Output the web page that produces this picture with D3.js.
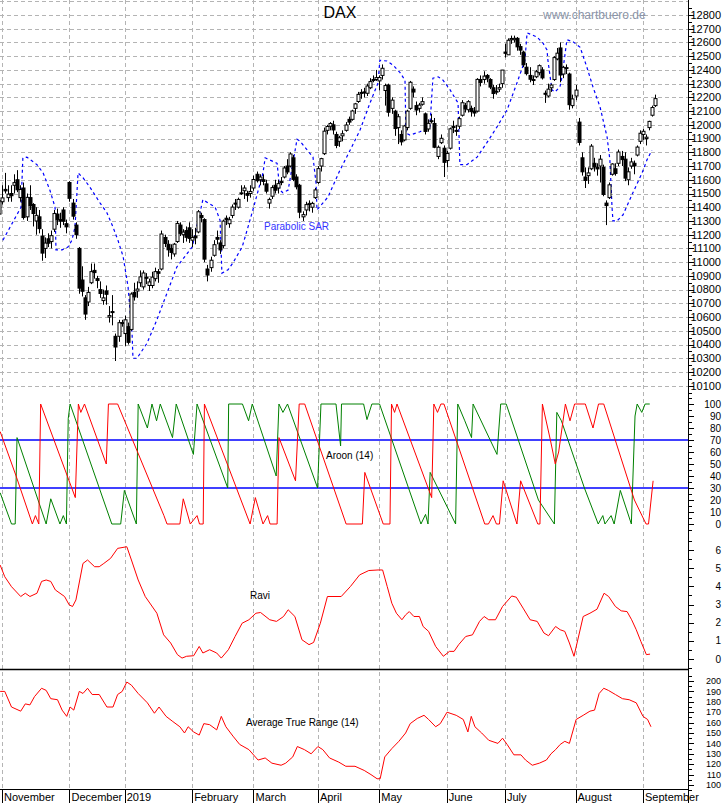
<!DOCTYPE html>
<html>
<head>
<meta charset="utf-8">
<script src="https://cdnjs.cloudflare.com/ajax/libs/d3/7.8.5/d3.min.js"></script>
<style>
  body { margin: 0; background: #fff; }
  text { font-family: "Liberation Sans", Arial, sans-serif; }
</style>
</head>
<body>
<svg id="chart" width="723" height="803"></svg>
<script>
// daily DAX candles, Oct 31 2018 .. Sep 6 2019 (trading-day index)
var open = [11350,11440,11530,11470,11500,11560,11600,11470,11540,11330,11470,11420,11300,11330,11190,11100,11170,11150,11240,11350,11310,11380,11280,
  11580,11430,11270,11100,10870,10740,10710,10850,10940,10880,10800,10720,10790,10600,10640,10460,10460,10559,
  10480,10530,10510,10780,10790,10850,10820,10890,10830,10830,10880,10930,10950,11180,11130,11100,11060,11150,11270,11200,11230,11250,
  11160,11190,11220,11340,11310,10950,10960,11050,11180,11140,11120,11320,11280,11340,11430,11400,11500,11520,11500,11500,
  11540,11640,11600,11600,11570,11430,11480,11560,11540,11580,11620,11700,11700,11760,11620,11560,11330,11380,11420,11400,11470,
  11580,11700,11790,11960,11990,12000,11930,11880,11920,11960,12040,12040,12120,12170,12230,12240,12230,12270,12330,12330,
  12320,12360,12250,12290,12120,12100,11980,11930,11890,11980,12120,12260,12140,12120,12150,12080,11970,12030,12010,11770,11870,11830,
  11740,11830,11990,11960,11990,12070,12140,12110,12120,12100,12100,12330,12330,12360,12330,12270,12240,12260,12300,
  12530,12510,12620,12620,12630,12570,12530,12420,12360,12330,12350,12380,12400,12230,12210,12270,12330,12480,12560,12370,12410,12370,12140,
  12210,12020,11760,11620,11630,11680,11720,11690,11700,11690,11430,11470,11640,11680,11720,11770,11750,11600,11700,11720,11780,11880,
  11930,11900,11980,12070,12140];
var high = [11480,11560,11650,11560,11560,11640,11670,11560,11580,11500,11560,11430,11400,11380,11240,11180,11210,11230,11380,11390,11360,11400,11310,
  11590,11460,11290,11110,10970,10760,10820,10990,10990,10900,10860,10800,10830,10680,10760,10480,10580,10580,
  10610,10560,10780,10850,10860,10940,10940,10920,10880,10930,10960,10950,11230,11200,11160,11130,11140,11300,11290,11240,11260,11290,
  11240,11250,11380,11360,11320,10980,11040,11160,11230,11160,11310,11340,11330,11420,11460,11470,11560,11560,11520,11560,
  11630,11660,11640,11640,11600,11470,11560,11600,11600,11620,11700,11750,11800,11780,11640,11570,11370,11440,11450,11440,11540,
  11700,11760,11980,12000,12020,12030,11950,11920,11960,12020,12060,12110,12160,12240,12260,12270,12300,12340,12360,12400,
  12360,12440,12300,12300,12200,12110,12080,11960,12000,12110,12320,12280,12170,12160,12200,12090,12040,12080,12050,11850,11930,11850,
  11810,11980,12030,12000,12060,12180,12160,12180,12140,12130,12340,12360,12390,12370,12340,12290,12290,12300,12400,
  12590,12630,12650,12650,12640,12590,12540,12450,12420,12360,12400,12440,12420,12250,12300,12300,12500,12560,12600,12430,12440,12380,12220,
  12290,12050,11800,11690,11690,11860,11760,11720,11780,11710,11450,11580,11720,11720,11820,11810,11800,11690,11760,11740,11850,11960,
  11970,11930,12030,12140,12220];
var low = [11330,11420,11500,11440,11440,11500,11510,11440,11310,11300,11380,11260,11200,11210,11010,11030,11110,11100,11220,11270,11250,11270,11210,
  11440,11310,11170,10770,10750,10580,10680,10840,10880,10810,10740,10690,10690,10560,10540,10280,10420,10530,
  10390,10400,10500,10720,10740,10820,10800,10840,10790,10810,10860,10850,10940,11110,11040,11020,11040,11140,11190,11140,11150,11140,
  11110,11130,11210,11290,11000,10860,10930,11040,11130,11060,11100,11270,11250,11320,11380,11390,11490,11460,11440,11470,
  11520,11580,11560,11560,11500,11390,11460,11500,11500,11560,11610,11640,11690,11590,11530,11320,11300,11340,11370,11360,11460,
  11570,11660,11780,11930,11960,11930,11830,11840,11880,11950,12000,12030,12080,12160,12190,12200,12210,12260,12310,12320,
  12250,12330,12140,12060,12080,11920,11860,11850,11880,11960,12110,12200,12070,12090,12140,11930,11950,12010,11830,11750,11860,11620,
  11690,11820,11940,11920,11970,12060,12090,12090,12060,12060,12090,12280,12300,12310,12260,12190,12220,12240,12270,
  12490,12510,12590,12600,12540,12510,12420,12360,12310,12290,12340,12360,12330,12160,12200,12240,12320,12470,12310,12340,12370,12110,12120,
  12180,11850,11630,11540,11570,11670,11660,11630,11580,11480,11270,11460,11630,11630,11700,11700,11590,11560,11680,11640,11770,11860,
  11890,11850,11960,12060,12130];
var close = [11447,11468,11519,11495,11484,11579,11527,11529,11325,11472,11412,11354,11341,11244,11066,11139,11138,11193,11354,11309,11299,11298,11257,
  11465,11335,11200,10811,10788,10622,10780,10931,10924,10866,10772,10740,10766,10611,10634,10382,10559,10560,
  10580,10416,10768,10747,10804,10893,10921,10887,10856,10891,10931,10919,11205,11136,11090,11071,11131,11282,11210,11219,11181,11173,
  11180,11177,11367,11324,11022,10906,11014,11127,11167,11089,11299,11309,11309,11401,11423,11457,11505,11540,11487,11515,
  11602,11593,11620,11588,11517,11457,11543,11524,11572,11587,11686,11657,11788,11603,11549,11364,11346,11419,11428,11428,11526,
  11681,11754,11954,11988,12010,11963,11850,11906,11935,11999,12020,12101,12153,12222,12236,12236,12283,12315,12328,12344,
  12345,12412,12286,12092,12180,11973,12059,11876,11992,12100,12310,12239,12108,12144,12169,11952,12011,12027,11837,11837,11902,11727,
  11792,11971,11980,11953,12045,12161,12116,12169,12096,12086,12331,12309,12355,12340,12275,12228,12245,12271,12399,
  12521,12616,12629,12630,12568,12544,12437,12373,12332,12323,12387,12431,12342,12227,12260,12290,12490,12522,12363,12419,12417,12147,12189,
  12253,11872,11658,11595,11650,11845,11694,11679,11750,11493,11412,11563,11715,11646,11802,11747,11612,11658,11730,11701,11838,11939,
  11953,11910,12025,12126,12191];

// Parabolic SAR, as drawn (day index, value)
var sarDay = [1.3,7.2,7.8,9.1,12.4,14.4,16.6,18.3,18.6,20.6,22.5,23.8,24.8,25.8,27.4,29.7,33,35.2,37.2,38.8,40.5,42.1,43.4,43.7,45,48.3,51.5,54.8,58,63,
  66.5,70.5,72.1,72.7,74.7,76.3,79.3,81.2,82.8,86.1,86.8,90.7,91.6,92.6,94.3,97.2,98.2,102.4,103.4,103.7,107.3,111.2,114.5,117.7,121,123.6,124.2,126.5,128.5,130.8,
  132.4,132.7,134,137.3,140.5,141.5,143.2,144.8,147.1,148.7,149.7,150.3,152.6,155.9,159.1,162.4,165.7,168.9,171.5,172.2,175.4,177.4,178.7,179,180.3,181.3,182.9,183.6,185.2,187.2,
  189.5,191.7,193.7,196,198.3,199.2,199.9,200.2,201.5,203.5,206.7,209.7,211.3,212.9];
var sarVal = [11160,11400,11760,11765,11710,11650,11525,11400,11090,11090,11110,11160,11255,11650,11615,11545,11430,11360,11255,11160,11040,10820,10485,10300,10300,10410,10580,10775,10965,11110,
  11455,11400,11305,10920,10945,10995,11110,11255,11380,11650,11760,11720,11525,11505,11525,11895,11880,11765,11575,11380,11475,11670,11815,11960,12160,12305,12470,12465,12435,12380,
  12325,11940,11925,11950,11985,12340,12350,12325,12255,12195,12160,11710,11710,11765,11870,11985,12110,12305,12470,12670,12640,12595,12545,12470,12255,12240,12275,12350,12620,12605,
  12565,12420,12275,12130,11910,11745,11400,11300,11300,11345,11505,11650,11745,11815];

// Aroon (14)
var aroonUpDay = [0.4,4.1,5.3,5.9,15.4,16.9,19.9,21,22,22.6,23.2,36.8,39.7,40.9,44.8,45.4,48.4,49.9,51.4,52.6,56.6,57.8,63.4,64.6,74.6,74.9,79.4,81.4,82.6,90.4,
  91.3,92.6,94.1,103.9,105,109.9,111.4,111.7,114.8,118.9,120,121.6,124.1,137.6,139.1,139.9,140.6,148.9,149.6,151.9,154.1,154.6,162.4,163.6,165.4,175.9,181.1,181.9,183.4,190.9,
  195.4,196.9,197.6,199.6,200.6,202.6,206.2,207.4,208.1,209.6,210.7,212.2];
var aroonUp = [26,0,0,72,0,21,0,7,0,88,100,0,0,28,0,100,80,100,86,100,72,100,58,100,30,100,100,86,100,40,
  100,93,100,30,100,100,65,100,100,100,87,100,100,0,8,0,43,0,100,86,72,100,58,100,100,20,0,93,86,30,
  0,7,0,7,0,28,0,90,100,93,100,100];
var aroonDownDay = [0.4,5.6,10.9,11.9,13,13.6,24.9,25.9,26.7,27.9,35,35.7,38.7,53.8,54.8,59,60.1,62.4,64.6,65.4,66.6,67,81.9,83.6,86.1,87.6,88.4,90.7,91.3,96.7,
  97.9,99.7,113.2,118.5,119.3,125.3,127.5,128,129,129.8,141.1,141.8,143,144.1,145.1,158.4,159.6,161.1,162.2,163.2,164.4,168.9,170.1,175.7,176.4,177.2,179.8,181.4,182.5,184.7,
  186.2,187.7,191.2,193.7,195.5,197.2,207.2,211,211.8,213.3];
var aroonDown = [77,40,0,7,0,100,22,100,93,100,50,100,100,7,0,0,21,0,7,0,0,100,0,22,0,7,0,0,72,36,
  100,100,0,0,43,0,0,100,93,100,22,100,93,100,100,0,0,7,0,0,36,0,36,0,0,100,70,50,60,100,
  86,100,100,80,100,100,20,0,0,36];

// RAVI
var raviDay = [0.4,1.9,4.1,7.1,8.6,10.1,12.4,13.9,15.4,16.9,18.4,21.4,22.9,24,25.1,27.4,28.9,31.2,32.7,34.2,36.4,38.7,41.7,43.2,45.4,47.7,51.5,53.7,56,58.2,
  59.7,61.2,63.5,65.3,66.5,68.7,71,72.5,74.8,77,79.3,81.5,83.8,85.3,88.3,90.5,92.8,94.3,96.5,98.8,101.1,102.6,104.8,107.1,108.6,111.6,114.6,117.6,120.6,123.6,
  125.1,126.6,128.1,129.6,131.4,132.6,133.8,135.3,137.1,138.3,140.1,142.4,144.9,146.9,148.4,149.9,152.2,154.4,156.7,158.2,159.7,161.9,164.2,167.2,168.7,170.9,173.2,175.5,177.7,179.2,
  181.5,183,184.5,186,187.5,188.5,190.5,192.7,195,197.3,198.8,201,202.9,204.8,206.3,207.8,209.3,211.1,212.3];
var ravi = [5.17,4.53,3.98,3.44,3.62,3.44,3.62,4.27,4.35,4.27,3.8,3.44,2.98,2.89,3.25,5.26,5.45,5.08,5.08,5.26,5.54,6.09,6.18,5.45,4.35,3.44,2.52,1.33,0.88,0.24,
  0.05,0.15,0.18,0.69,0.33,0.51,0.33,0.05,0.51,1.24,1.97,2.16,2.52,2.56,2.16,2.07,2.34,2.71,2.34,1.06,0.79,0.91,1.97,3.44,3.44,3.44,3.99,4.63,4.87,4.9,
  4.9,3.99,3.07,2.52,2.16,2.43,2.61,2.34,2.34,1.79,1.52,0.69,0.15,0.42,0.42,0.79,1.24,1.33,2.07,2.34,2.16,2.16,2.89,3.47,3.4,2.8,2.16,2.07,1.43,1.28,
  1.79,1.61,1.52,0.88,0.15,0.88,2.34,2.52,2.74,3.62,3.44,2.89,2.65,2.61,2.16,1.61,0.97,0.24,0.27];

// Average True Range (14)
var atrDay = [0.4,1.9,4.1,7.1,8.6,10.1,11.6,13.9,15.4,16.9,19.1,20.6,22.1,23.2,24.4,26.2,27.4,28.9,30.4,32.7,35.2,37.2,38.7,40.2,41.7,43.2,45.4,48.4,50.7,52.2,
  54.5,56.7,59,60.5,61.7,63.5,65.3,66.8,68.7,71,72.5,74,76.3,78.5,81.5,84.5,86.8,89,92,93.5,95.8,97.3,99.6,101.8,104,105.6,107.8,110.8,113.1,116.1,
  119.1,121.3,123.3,124.3,125.8,128.1,130.4,132.6,134.1,136.4,138.6,140.1,142.4,143.9,146.1,149.1,151.4,152.9,154,155.2,157.4,159.7,162.7,164.2,165.7,167.9,170.2,171.7,173.9,176.2,
  178.5,180,181.5,183,184.5,186,188.2,190.5,192.7,194.2,195.7,197.2,198.7,201,203.3,205.5,207.8,210,211.5,212.6];
var atr = [190,190,175,171,178,177,185,193,191,183,182,172,166,175,172,190,188,193,187,187,175,175,187,190,199,196,188,179,169,175,
  166,161,156,150,156,151,148,159,158,153,166,156,147,139,134,124,126,121,119,121,127,137,134,130,137,134,126,122,118,118,
  114,110,106,106,127,135,142,150,159,164,167,163,156,159,170,167,163,151,166,156,150,143,140,145,139,129,129,124,119,121,
  124,130,134,139,142,140,163,167,171,172,188,193,191,187,183,182,179,166,163,156];

var priceTicks = d3.range(10100, 12801, 100);
var aroonTicks = d3.range(0, 101, 10);
var raviTicks = d3.range(0, 7, 1);
var atrTicks = d3.range(100, 201, 10);
var monthStart = [1, 23, 41, 63, 83, 104, 124, 146, 165, 188, 210];
var monthNames = ["November", "December", "2019", "February", "March", "April", "May", "June", "July", "August", "September"];

var svg = d3.select("#chart"),
    axisX = 688;

var x = d3.scaleLinear().domain([1, 210]).range([2, 643]);
var yP = d3.scaleLinear().domain([10200, 12800]).range([372, 15]);
var yA = d3.scaleLinear().domain([0, 100]).range([524, 404]);
var yR = d3.scaleLinear().domain([0, 6]).range([659, 550]);
var yT = d3.scaleLinear().domain([100, 200]).range([785, 681]);

// grid
svg.append("g").selectAll("line").data(priceTicks.concat([12900])).enter().append("line")
    .attr("x1", 0).attr("x2", axisX).attr("y1", d => Math.round(yP(d)) + 0.5).attr("y2", d => Math.round(yP(d)) + 0.5)
    .attr("stroke", "#b4b4b4").attr("stroke-dasharray", "4,3");
svg.append("g").selectAll("line").data(monthStart).enter().append("line")
    .attr("x1", d => Math.round(x(d)) + 0.5).attr("x2", d => Math.round(x(d)) + 0.5).attr("y1", 0).attr("y2", 789)
    .attr("stroke", "#b4b4b4").attr("stroke-dasharray", "4,3");

// parabolic SAR
svg.append("path")
    .attr("d", d3.line()(sarDay.map((d, i) => [x(d), yP(sarVal[i])])))
    .attr("fill", "none").attr("stroke", "#0000ff").attr("stroke-width", 1.2).attr("stroke-dasharray", "3,3");

// candles
var days = d3.range(close.length);
var cg = svg.append("g");
cg.selectAll("line").data(days).enter().append("line")
    .attr("x1", d => Math.round(x(d)) + 0.5).attr("x2", d => Math.round(x(d)) + 0.5)
    .attr("y1", d => yP(high[d])).attr("y2", d => yP(low[d]))
    .attr("stroke", "#000");
cg.selectAll("rect").data(days).enter().append("rect")
    .attr("x", d => Math.round(x(d)) - 1)
    .attr("width", 3)
    .attr("y", d => yP(Math.max(open[d], close[d])))
    .attr("height", d => Math.max(1, Math.abs(yP(open[d]) - yP(close[d]))))
    .attr("fill", d => close[d] >= open[d] ? "#fff" : "#000")
    .attr("stroke", "#000").attr("stroke-width", 1);

// aroon
[70, 30].forEach(function(v) {
  svg.append("line").attr("x1", 0).attr("x2", axisX).attr("y1", yA(v)).attr("y2", yA(v))
      .attr("stroke", "#0000ff").attr("stroke-width", 1.5);
});
svg.append("path")
    .attr("d", d3.line()(aroonUpDay.map((d, i) => [x(d), yA(aroonUp[i])])))
    .attr("fill", "none").attr("stroke", "#008000");
svg.append("path")
    .attr("d", d3.line()(aroonDownDay.map((d, i) => [x(d), yA(aroonDown[i])])))
    .attr("fill", "none").attr("stroke", "#ff0000");

// ravi
svg.append("path")
    .attr("d", d3.line()(raviDay.map((d, i) => [x(d), yR(ravi[i])])))
    .attr("fill", "none").attr("stroke", "#ff0000");
svg.append("line").attr("x1", 0).attr("x2", axisX).attr("y1", 669.5).attr("y2", 669.5)
    .attr("stroke", "#000").attr("stroke-width", 1.5);

// ATR
svg.append("path")
    .attr("d", d3.line()(atrDay.map((d, i) => [x(d), yT(atr[i])])))
    .attr("fill", "none").attr("stroke", "#ff0000");

// right axes
svg.append("line").attr("x1", axisX + 0.5).attr("x2", axisX + 0.5).attr("y1", 0).attr("y2", 803).attr("stroke", "#000");
function rightAxis(scale, ticks, step, size) {
  var g = svg.append("g");
  var minor = [];
  ticks.forEach(t => minor.push(t + step / 2));
  minor.unshift(ticks[0] - step / 2);
  g.selectAll("line.minor").data(minor).enter().append("line")
      .attr("x1", axisX).attr("x2", axisX + 4).attr("y1", d => Math.round(scale(d)) + 0.5).attr("y2", d => Math.round(scale(d)) + 0.5)
      .attr("stroke", "#000");
  g.selectAll("line.major").data(ticks).enter().append("line")
      .attr("x1", axisX).attr("x2", axisX + 6).attr("y1", d => Math.round(scale(d)) + 0.5).attr("y2", d => Math.round(scale(d)) + 0.5)
      .attr("stroke", "#000");
  g.selectAll("text").data(ticks).enter().append("text")
      .attr("x", 721).attr("y", d => scale(d)).attr("dy", "0.35em")
      .attr("text-anchor", "end").attr("font-size", size).text(d => d);
}
rightAxis(yP, priceTicks, 100, 11);
rightAxis(yA, aroonTicks, 10, 10);
rightAxis(yR, raviTicks, 1, 10);
rightAxis(yT, atrTicks, 10, 9);

// bottom axis
svg.append("line").attr("x1", 0).attr("x2", axisX).attr("y1", 789.5).attr("y2", 789.5).attr("stroke", "#000");
svg.append("g").selectAll("line").data(monthStart).enter().append("line")
    .attr("x1", d => Math.round(x(d)) + 0.5).attr("x2", d => Math.round(x(d)) + 0.5).attr("y1", 789).attr("y2", 803)
    .attr("stroke", "#000");
svg.append("g").selectAll("text").data(monthStart).enter().append("text")
    .attr("x", d => x(d) + 2).attr("y", 801).attr("font-size", 11)
    .text((d, i) => monthNames[i]);

// titles and labels
svg.append("text").attr("x", 340).attr("y", 18).attr("text-anchor", "middle").attr("font-size", 16).text("DAX");
svg.append("text").attr("x", 543).attr("y", 19).attr("font-size", 12).attr("fill", "#8a94a8").text("www.chartbuero.de");
svg.append("text").attr("x", 264).attr("y", 230).attr("font-size", 10).attr("fill", "#3333ff").text("Parabolic SAR");
svg.append("text").attr("x", 326).attr("y", 459).attr("font-size", 10).text("Aroon (14)");
svg.append("text").attr("x", 250).attr("y", 599).attr("font-size", 10).text("Ravi");
svg.append("text").attr("x", 246).attr("y", 726).attr("font-size", 10).text("Average True Range (14)");
</script>
</body>
</html>
